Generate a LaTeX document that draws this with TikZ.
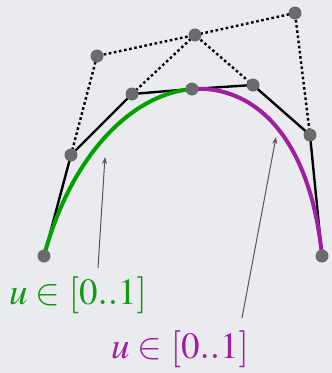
\documentclass[tikz,border=0pt]{standalone}
\usepackage{mathptmx}
\usetikzlibrary{arrows.meta}
\definecolor{bg}{HTML}{E9EBEE}
\definecolor{dotgray}{HTML}{6B6B6B}
\definecolor{cgreen}{HTML}{00A000}
\definecolor{cmag}{HTML}{A01EA0}
\definecolor{tgreen}{HTML}{109A10}
\definecolor{arrgray}{HTML}{555555}
\tikzset{
  pt/.style={circle,fill=dotgray,inner sep=0pt,minimum size=13pt},
  ctrl/.style={line width=2.4pt,dash pattern=on 2.6pt off 2.6pt,black},
  poly/.style={line width=2.4pt,black},
  curve/.style={line width=4pt},
  lab/.style={font=\fontsize{37}{44}\selectfont,inner sep=0pt,anchor=base},
  pointer/.style={arrgray,line width=1pt,-{Stealth[length=7pt,width=5pt]}}
}
\begin{document}
\begin{tikzpicture}[x=1pt,y=-1pt]
\fill[bg] (0,0) rectangle (332,373);
\useasboundingbox (0,0) rectangle (332,373);
% coordinates
\coordinate (P0) at (44,256);
\coordinate (A) at (71,155);
\coordinate (P1) at (97,56);
\coordinate (B) at (195,35);
\coordinate (P2) at (295,13);
\coordinate (C) at (310,135);
\coordinate (P3) at (322,256);
\coordinate (D) at (132,94);
\coordinate (M) at (192,89);
\coordinate (E) at (253,85);
% dotted control lines
\draw[ctrl] (A) -- (P1) -- (B) -- (P2) -- (C);
\draw[ctrl] (D) -- (B) -- (E);
% solid polygons
\draw[poly,line join=round] (P0) -- (A) -- (D) -- (M) -- (E) -- (C) -- (P3);
% curves
\draw[curve,cgreen] (P0) .. controls (A) and (D) .. (M);
\draw[curve,cmag] (M) .. controls (E) and (C) .. (P3);
% points
\foreach \p in {P0,A,P1,B,P2,C,P3,D,M,E}
  \node[pt] (n\p) at (\p) {};
% labels
\node[lab,text=tgreen] (l1) at (78,304) {$u\in[0..1]$};
\node[lab,text=cmag] (l2) at (180,358) {$u\in[0..1]$};
\coordinate (t1) at (105,157);
\coordinate (t2) at (276,137);
\coordinate (s1) at (98,268);
\coordinate (s2) at (242,318);
\draw[pointer] (s1) -- (t1);
\draw[pointer] (s2) -- (t2);
\end{tikzpicture}
\end{document}
